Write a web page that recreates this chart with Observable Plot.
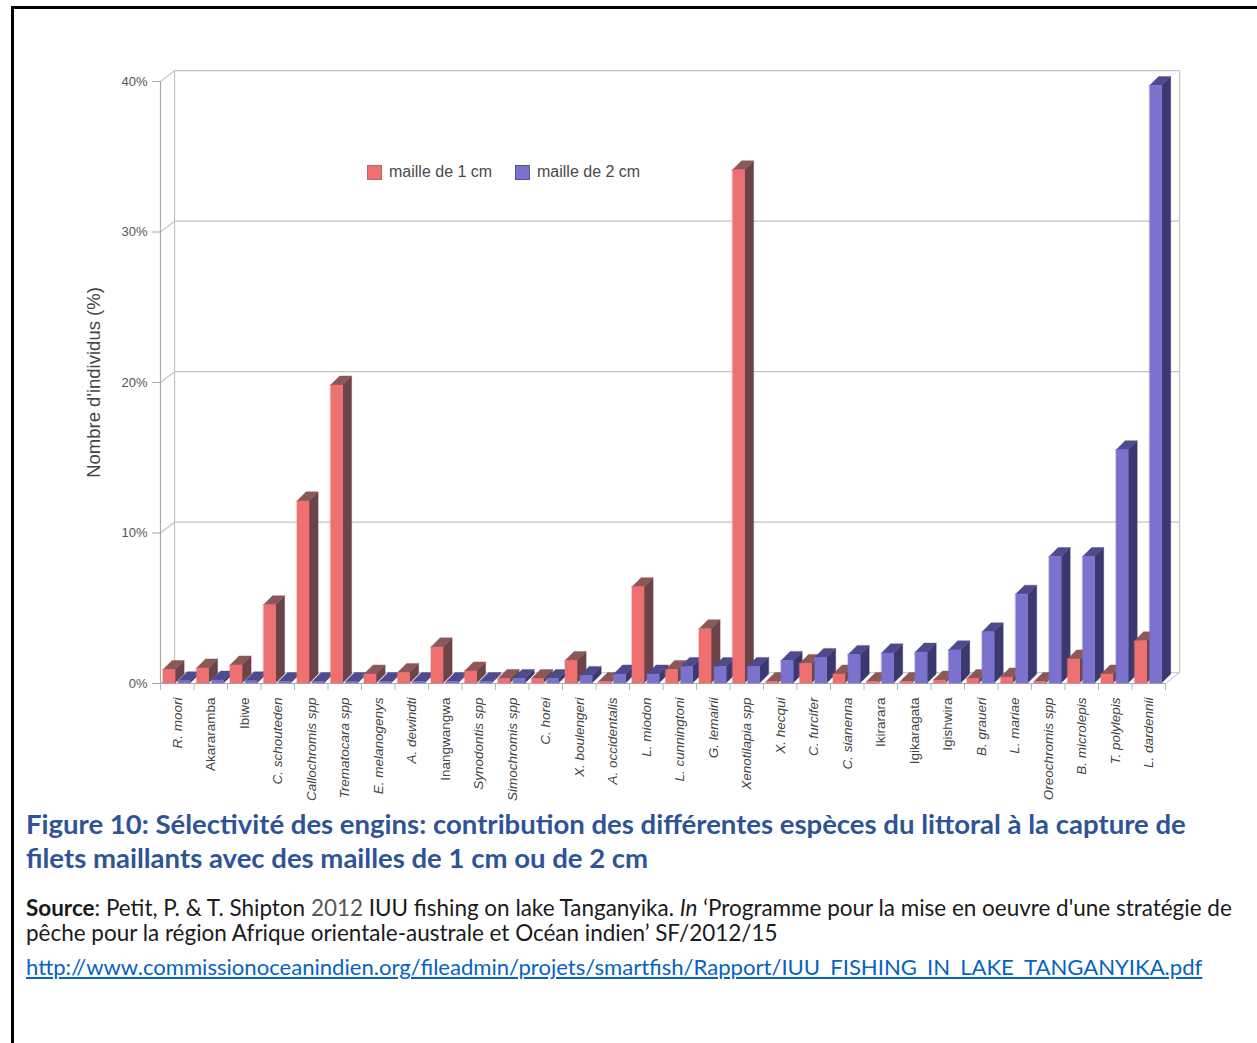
<!DOCTYPE html>
<html>
<head>
<meta charset="utf-8">
<script src="https://cdn.jsdelivr.net/npm/d3@7"></script>
<script src="https://cdn.jsdelivr.net/npm/@observablehq/plot@0.6"></script>
<style>
  html, body { margin: 0; padding: 0; background: #fff; width: 1257px; height: 1043px; overflow: hidden; }
  #frame { position: absolute; left: 11px; top: 6px; width: 1400px; height: 1200px; border-left: 3px solid #000; border-top: 3px solid #000; }
  #chart { position: absolute; left: 0; top: 0; }
  .leg { position: absolute; font-family: "Liberation Sans", Arial, sans-serif; font-size: 16px; color: #4a4a4a; white-space: nowrap; line-height: 16px; }
  .sw { position: absolute; width: 13px; height: 13px; }
  .cap { position: absolute; left: 26px; white-space: nowrap; line-height: 30px; font-family: Lato, "Open Sans", sans-serif; }
  .title { font-weight: bold; color: #2f5496; }
  .src { color: #1a1a1a; }
  .src a { color: #0563c1; text-decoration: underline; }
</style>
</head>
<body>
<div id="frame"></div>
<div id="chart"></div>
<div class="sw" style="left:367px; top:165px; background:#ef7070; border:1px solid #c86060;"></div>
<div class="leg" style="left:389px; top:164px;">maille de 1 cm</div>
<div class="sw" style="left:515px; top:165px; background:#7a72cc; border:1px solid #5a54a0;"></div>
<div class="leg" style="left:537px; top:164px;">maille de 2 cm</div>

<div class="cap title" id="t1" style="top:809px;">Figure 10: Sélectivité des engins: contribution des différentes espèces du littoral à la capture de</div>
<div class="cap title" id="t2" style="top:843px;">filets maillants avec des mailles de 1 cm ou de 2 cm</div>
<div class="cap src" id="s1" style="top:893px;"><b>Source</b>: Petit, P. &amp; T. Shipton <span style="color:#555">2012</span> IUU fishing on lake Tanganyika. <i>In</i> ‘Programme pour la mise en oeuvre d'une stratégie de</div>
<div class="cap src" id="s2" style="top:918px;">pêche pour la région Afrique orientale-australe et Océan indien’ SF/2012/15</div>
<div class="cap src" id="s3" style="top:952px;"><a>http://www.commissionoceanindien.org/fileadmin/projets/smartfish/Rapport/IUU_FISHING_IN_LAKE_TANGANYIKA.pdf</a></div>

<script>
// ---- Data ----
const categories = [
  "R. moori", "Akararamba", "Ibiwe", "C. schouteden", "Callochromis spp",
  "Trematocara spp", "E. melanogenys", "A. dewindti", "Inangwangwa", "Synodontis spp",
  "Simochromis spp", "C. horei", "X. boulengeri", "A. occidentalis", "L. miodon",
  "L. cunningtoni", "G. lemairii", "Xenotilapia spp", "X. hecqui", "C. furcifer",
  "C. sianenna", "Ikirarara", "Igikaragata", "Igishwira", "B. graueri",
  "L. mariae", "Oreochromis spp", "B. microlepis", "T. polylepis", "L. dardennii"
];
const localNames = ["Akararamba", "Ibiwe", "Inangwangwa", "Ikirarara", "Igikaragata", "Igishwira"];
// maille de 1 cm (%)
const maille1cm = [0.9, 1.0, 1.2, 5.2, 12.1, 19.8, 0.6, 0.7, 2.4, 0.8,
                   0.3, 0.3, 1.5, 0.1, 6.4, 0.9, 3.6, 34.1, 0.1, 1.3,
                   0.6, 0.1, 0.1, 0.2, 0.3, 0.4, 0.1, 1.6, 0.6, 2.8];
// maille de 2 cm (%)
const maille2cm = [0.15, 0.2, 0.15, 0.1, 0.1, 0.1, 0.1, 0.1, 0.1, 0.1,
                   0.3, 0.3, 0.5, 0.6, 0.6, 1.1, 1.1, 1.1, 1.5, 1.7,
                   1.9, 2.0, 2.05, 2.2, 3.4, 5.9, 8.4, 8.4, 15.5, 39.7];
const yTicks = [0, 10, 20, 30, 40];
const seriesNames = ["maille de 1 cm", "maille de 2 cm"];

// ---- Style ----
const palette = {
  "maille de 1 cm": {front: "#ef7070", top: "#8c5757", side: "#6b4348"},
  "maille de 2 cm": {front: "#7a72cc", top: "#4f4a8c", side: "#3b376f"}
};
const barSlot = {"maille de 1 cm": [0.09, 0.45], "maille de 2 cm": [0.54, 0.90]};
const bdx = 0.27, bdy = 0.6;   // bar depth (x in band units, y in %)
const wdx = 0.42, wdy = 0.72;  // wall depth
const N = categories.length;

// Build 3D faces (painter order) from data
const faces = [];
categories.forEach((cat, i) => {
  [[seriesNames[0], maille1cm[i]], [seriesNames[1], maille2cm[i]]].forEach(([s, v]) => {
    const xl = i + barSlot[s][0], xr = i + barSlot[s][1], c = palette[s];
    const id = cat + "|" + s;
    faces.push({z: id + "|side", c: c.side, x: xr, y1: 0, y2: v});
    faces.push({z: id + "|side", c: c.side, x: xr + bdx, y1: bdy, y2: v + bdy});
    faces.push({z: id + "|top", c: c.top, x: xl, y1: v, y2: v});
    faces.push({z: id + "|top", c: c.top, x: xl + bdx, y1: v, y2: v + bdy});
    faces.push({z: id + "|top", c: c.top, x: xr, y1: v, y2: v + bdy});
    faces.push({z: id + "|top", c: c.top, x: xr + bdx, y1: v + bdy, y2: v + bdy});
    faces.push({z: id + "|front", c: c.front, x: xl, y1: 0, y2: v});
    faces.push({z: id + "|front", c: c.front, x: xr, y1: 0, y2: v});
  });
});

const catIndex = categories.map((c, i) => ({c, i}));
const lineColor = "#c4c4c4";
const font = "'Liberation Sans', Arial, sans-serif";

const chart = Plot.plot({
  width: 1257,
  height: 805,
  marginLeft: 160,
  marginRight: 92,
  marginTop: 81,
  marginBottom: 122,
  style: {fontFamily: font, background: "transparent"},
  x: {type: "linear", domain: [0, N], axis: null},
  y: {type: "linear", domain: [0, 40], axis: null},
  color: {type: "identity"},
  marks: [
    // back wall
    Plot.ruleY(yTicks.slice(1), {y: d => d + wdy, x1: wdx, x2: N + wdx, stroke: lineColor, strokeWidth: 1.2}),
    Plot.ruleX([wdx, N + wdx], {x: d => d, y1: wdy, y2: 40 + wdy, stroke: lineColor, strokeWidth: 1.2}),
    Plot.link(yTicks, {x1: 0, y1: d => d, x2: wdx, y2: d => d + wdy, stroke: lineColor, strokeWidth: 1.2}),
    // floor
    Plot.ruleY([wdy], {y: d => d, x1: wdx, x2: N + wdx, stroke: lineColor}),
    Plot.link([N], {x1: d => d, y1: 0, x2: d => d + wdx, y2: wdy, stroke: lineColor}),
    // front axis lines
    Plot.ruleX([0], {y1: 0, y2: 40, stroke: "#a8a8a8", strokeWidth: 1.2}),
    Plot.ruleY([0], {x1: 0, x2: N, stroke: "#a8a8a8", strokeWidth: 1.2}),
    // bars (3D faces)
    Plot.areaY(faces, {x: "x", y1: "y1", y2: "y2", z: "z", fill: "c", stroke: "c", strokeWidth: 0.4, curve: "linear"}),
    // y axis
    Plot.axisY(yTicks, {anchor: "left", tickSize: 8, tickPadding: 5, tickFormat: d => d + "%", fontSize: 13, color: "#555", stroke: "#a8a8a8", label: null}),
    Plot.text(["Nombre d'individus (%)"], {frameAnchor: "left", textAnchor: "middle", rotate: -90, dx: -66, fontSize: 18.5, fill: "#444"}),
    // x axis ticks at category boundaries
    Plot.axisX(d3.range(N + 1), {anchor: "bottom", tickSize: 7, tickFormat: () => "", stroke: "#a9b8c8", label: null}),
    // category labels
    Plot.text(catIndex.filter(d => !localNames.includes(d.c)), {x: d => d.i + 0.5, y: 0, text: "c", rotate: -90, textAnchor: "end", lineAnchor: "middle", dy: 14, fontSize: 13.5, fontStyle: "italic", fill: "#444"}),
    Plot.text(catIndex.filter(d => localNames.includes(d.c)), {x: d => d.i + 0.5, y: 0, text: "c", rotate: -90, textAnchor: "end", lineAnchor: "middle", dy: 14, fontSize: 13.5, fill: "#444"})
  ]
});
document.getElementById("chart").appendChild(chart);

// fit caption lines to the reference widths
function fit(ids, target) {
  const first = document.getElementById(ids[0]);
  first.style.fontSize = "20px";
  const w = first.getBoundingClientRect().width;
  const size = 20 * target / w;
  ids.forEach(id => document.getElementById(id).style.fontSize = size + "px");
}
fit(["t1", "t2"], 1160);
fit(["s1", "s2"], 1206);
fit(["s3"], 1177);
</script>
</body>
</html>
